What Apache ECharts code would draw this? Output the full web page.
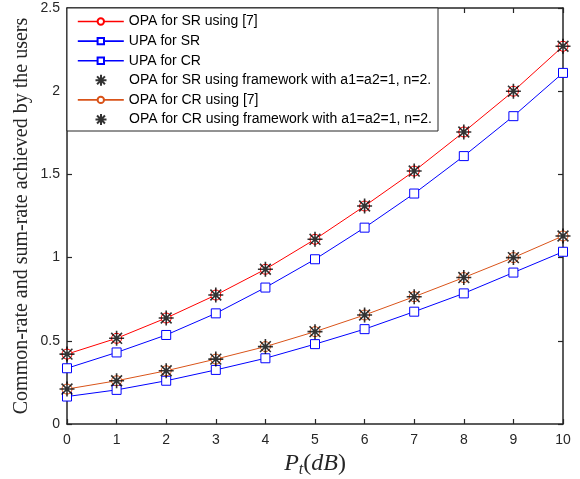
<!DOCTYPE html>
<html>
<head>
<meta charset="utf-8">
<script src="https://cdn.jsdelivr.net/npm/echarts@6/dist/echarts.min.js"></script>
<style>
  html, body { margin: 0; padding: 0; background: #fff; }
  #main { width: 580px; height: 479px; }
</style>
</head>
<body>
<div id="main"></div>
<script>
    // x axis: transmit power in dB
    let power = [0, 1, 2, 3, 4, 5, 6, 7, 8, 9, 10];

    // rates
    let opaSR = [0.42, 0.515, 0.637, 0.775, 0.93, 1.11, 1.31, 1.52, 1.755, 2.0, 2.27];
    let upaSR = [0.335, 0.43, 0.535, 0.665, 0.82, 0.99, 1.18, 1.385, 1.61, 1.85, 2.11];
    let opaCR = [0.21, 0.26, 0.32, 0.39, 0.465, 0.555, 0.655, 0.765, 0.88, 1.0, 1.13];
    let upaCR = [0.165, 0.205, 0.26, 0.325, 0.395, 0.48, 0.57, 0.675, 0.785, 0.91, 1.035];
    // framework results (coincide with OPA)
    let fwSR = [0.42, 0.515, 0.637, 0.775, 0.93, 1.11, 1.31, 1.52, 1.755, 2.0, 2.27];
    let fwCR = [0.21, 0.26, 0.32, 0.39, 0.465, 0.555, 0.655, 0.765, 0.88, 1.0, 1.13];

    let names = [
        'OPA for SR using [7]',
        'UPA for SR',
        'UPA for CR',
        'OPA for SR using framework with a1=a2=1, n=2.',
        'OPA for CR using [7]',
        'OPA for CR using framework with a1=a2=1, n=2.'
    ];
    let isStar = [false, false, false, true, false, true];

    let axisColor = '#262626';
    let star = 'path://M0,-1L0,1M-1,0L1,0M-0.72,-0.72L0.72,0.72M-0.72,0.72L0.72,-0.72';

    function pairs(ys) {
        return power.map((x, i) => [x, ys[i]]);
    }

    function lineSeries(name, ys, color, symbol, size) {
        return {
            name: name,
            type: 'line',
            data: pairs(ys),
            symbol: symbol,
            symbolSize: size,
            showAllSymbol: true,
            lineStyle: { color: color, width: 1 },
            itemStyle: { color: '#fff', borderColor: color, borderWidth: 1 },
            emphasis: { disabled: true },
            z: 2
        };
    }

    function starSeries(name, ys) {
        return {
            name: name,
            type: 'scatter',
            data: pairs(ys),
            symbol: star,
            symbolSize: 15,
            itemStyle: { color: 'none', borderColor: '#000', borderWidth: 1.6 },
            emphasis: { disabled: true },
            z: 3
        };
    }

    let axisCommon = {
        axisLine: { show: true, onZero: false, lineStyle: { color: axisColor, width: 1.5 } },
        axisTick: { show: true, inside: true, length: 5, lineStyle: { color: axisColor, width: 1.2 } },
        splitLine: { show: false }
    };

    // one legend per row so the star rows can use a bigger icon
    let legends = names.map((n, i) => ({
        orient: 'vertical',
        left: isStar[i] ? 93 : 77,
        top: 21.5 + 19.6 * i - 8,
        itemWidth: 46,
        itemHeight: isStar[i] ? 11 : 8,
        padding: 0,
        data: [n],
        lineStyle: { width: 1.6 },
        textStyle: { color: '#000', fontSize: 14, fontFamily: 'Liberation Sans', lineHeight: 16 },
        z: 5
    }));

    let chart = echarts.init(document.getElementById('main'));

    chart.setOption({
        animation: false,
        grid: { left: 67, right: 17, top: 8, bottom: 55, outerBoundsMode: 'none' },
        xAxis: [
            Object.assign({
                type: 'value', min: 0, max: 10, interval: 1, position: 'bottom',
                axisLabel: { color: axisColor, fontSize: 14, fontFamily: 'Liberation Sans', margin: 9 },
                name: '{i|P}{s|t}{n|(}{i|dB}{n|)}',
                nameLocation: 'middle',
                nameGap: 25,
                nameTextStyle: {
                    rich: {
                        i: { fontFamily: 'Liberation Serif', fontStyle: 'italic', fontSize: 24, color: axisColor },
                        s: { fontFamily: 'Liberation Serif', fontStyle: 'italic', fontSize: 16, color: axisColor, padding: [12, 0, 0, 0] },
                        n: { fontFamily: 'Liberation Serif', fontSize: 24, color: axisColor }
                    }
                }
            }, axisCommon),
            Object.assign({
                type: 'value', min: 0, max: 10, interval: 1, position: 'top',
                axisLabel: { show: false }
            }, axisCommon)
        ],
        yAxis: [
            Object.assign({
                type: 'value', min: 0, max: 2.5, interval: 0.5, position: 'left',
                axisLabel: { color: axisColor, fontSize: 14, fontFamily: 'Liberation Sans', margin: 7 },
                name: 'Common-rate and sum-rate achieved by the users',
                nameLocation: 'middle',
                nameGap: 35,
                nameMoveOverlap: false,
                nameTextStyle: { fontFamily: 'Liberation Serif', fontSize: 20, color: axisColor }
            }, axisCommon),
            Object.assign({
                type: 'value', min: 0, max: 2.5, interval: 0.5, position: 'right',
                axisLabel: { show: false }
            }, axisCommon)
        ],
        legend: legends,
        graphic: [{
            type: 'rect',
            shape: { x: 67, y: 8, width: 371, height: 123 },
            style: { fill: '#fff', stroke: axisColor, lineWidth: 1 },
            z: 4
        }],
        series: [
            lineSeries(names[0], opaSR, '#ff0000', 'circle', 10),
            lineSeries(names[1], upaSR, '#0000ff', 'rect', 9),
            lineSeries(names[2], upaCR, '#0000ff', 'rect', 9),
            starSeries(names[3], fwSR),
            lineSeries(names[4], opaCR, '#d95319', 'circle', 10),
            starSeries(names[5], fwCR)
        ]
    });
</script>
</body>
</html>
